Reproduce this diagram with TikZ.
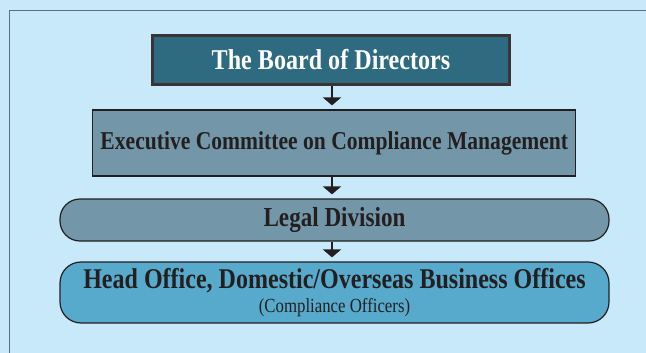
\documentclass[tikz,border=0pt]{standalone}
\usepackage{fontspec}
\setmainfont{Liberation Serif}[FakeStretch=0.84]
\usetikzlibrary{arrows.meta}
\definecolor{bgblue}{HTML}{C8E9F9}
\definecolor{framegray}{HTML}{5E6E7C}
\definecolor{boardfill}{HTML}{2E6A80}
\definecolor{midfill}{HTML}{7397A9}
\definecolor{headfill}{HTML}{58AACC}
\definecolor{ink}{HTML}{231F20}
\tikzset{
  box/.style={draw=ink, line width=1.2pt, text=ink, inner sep=0pt, font=\bfseries},
  boardbox/.style={box, draw=ink!90, line width=3pt, fill=boardfill, text=white},
  midbox/.style={box, fill=midfill},
  legalbox/.style={box, fill=midfill, rounded corners=20pt},
  headbox/.style={box, fill=headfill, rounded corners=21pt, align=center},
  arr/.style={draw=ink, line width=2pt, -{Triangle[width=18pt,length=8pt]}, shorten >=4pt}
}
\begin{document}
\begin{tikzpicture}[x=1pt,y=-1pt]
  \fill[bgblue] (0,0) rectangle (646,353);
  \useasboundingbox (0,0) rectangle (646,353);
  \clip (0,0) rectangle (646,353);
  \draw[framegray, line width=1.5pt] (9.5,10.5) rectangle (700,400);
  \coordinate (spine) at (332,0);
  \node[boardbox, minimum width=357pt, minimum height=49pt] (board) at (331,60)
    {\fontsize{28.7}{30}\selectfont The Board of Directors};
  \node[midbox, minimum width=483pt, minimum height=66pt] (exec) at (334.3,143)
    {\fontsize{25.7}{28}\selectfont Executive Committee on Compliance Management};
  \node[legalbox, minimum width=549pt, minimum height=42pt] (legal) at (334.5,220)
    {\fontsize{27.5}{28}\selectfont Legal Division};
  \node[headbox, minimum width=549pt, minimum height=61pt] (head) at (334.5,292.5)
    {\fontsize{28.6}{28}\selectfont Head Office, Domestic/Overseas Business Offices\\[4pt]
     {\fontsize{20}{23}\selectfont\mdseries (Compliance Officers)}};
  \draw[arr] (board.south -| spine) -- (exec.north -| spine);
  \draw[arr] (exec.south -| spine) -- (legal.north -| spine);
  \draw[arr] (legal.south -| spine) -- (head.north -| spine);
\end{tikzpicture}
\end{document}
